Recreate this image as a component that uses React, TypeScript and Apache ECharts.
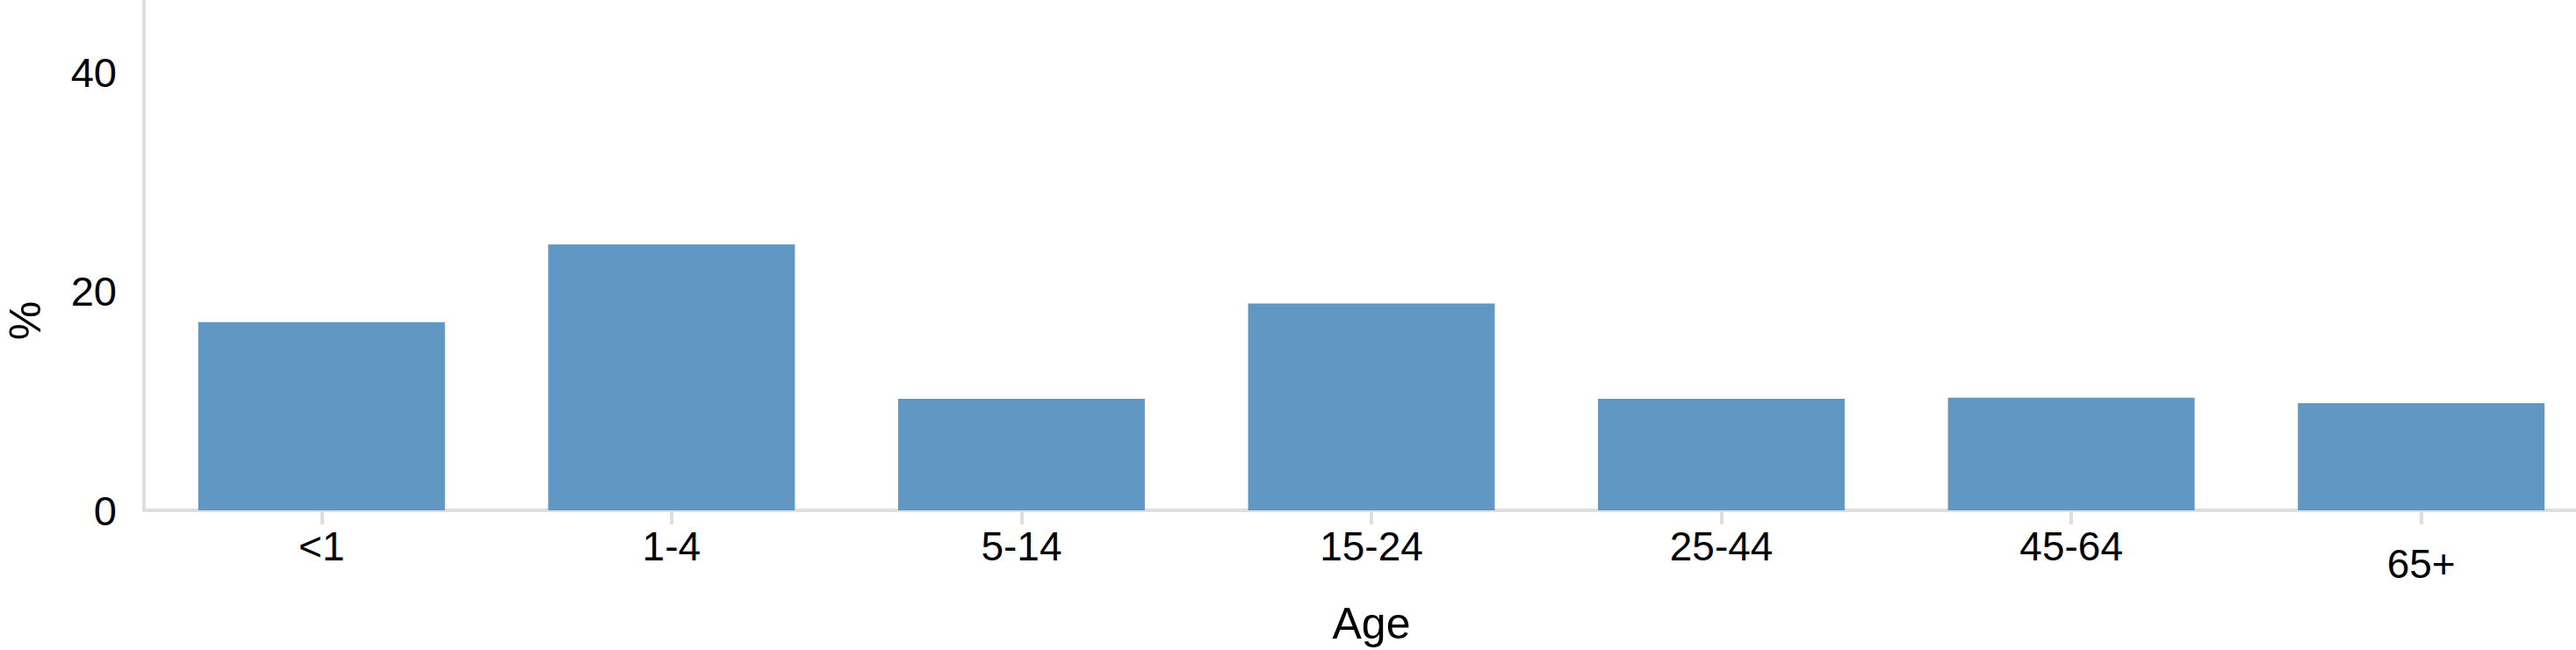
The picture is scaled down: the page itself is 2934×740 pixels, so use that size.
import React, { useEffect, useRef } from "react";
import * as echarts from "echarts";

const categories = ["<1", "1-4", "5-14", "15-24", "25-44", "45-64", "65+"];
const percentValues = [17.2, 24.3, 10.2, 18.9, 10.2, 10.3, 9.8];
const yTickStep = 20;
const yMax = 46.64;
const xAxisTitle = "Age";
const yAxisTitle = "%";

const FONT = "'Liberation Sans', Arial, Helvetica, sans-serif";

export default function App() {
  const ref = useRef<HTMLDivElement>(null);

  useEffect(() => {
    if (!ref.current) return;
    const chart = echarts.init(ref.current, undefined, { renderer: "svg" });
    chart.setOption({
      animation: false,
      backgroundColor: "#ffffff",
      grid: { left: 167, right: 3, top: 0, bottom: 157, containLabel: false },
      xAxis: {
        type: "category",
        data: categories.map((c) =>
          c === "65+" ? { value: c, textStyle: { padding: [20, 0, 0, 0] } } : c
        ),
        name: xAxisTitle,
        nameLocation: "middle",
        nameGap: 104,
        nameTextStyle: { fontFamily: FONT, fontSize: 50, color: "#000" },
        axisLine: { show: true, lineStyle: { color: "#dedede", width: 4 } },
        axisTick: {
          show: true,
          alignWithLabel: true,
          length: 16,
          lineStyle: { color: "#dedede", width: 4 },
        },
        axisLabel: {
          fontFamily: FONT,
          fontSize: 46,
          color: "#000",
          margin: 18,
          interval: 0,
        },
        splitLine: { show: false },
      },
      yAxis: {
        type: "value",
        min: 0,
        max: yMax,
        interval: yTickStep,
        offset: 3,
        axisLine: { show: true, lineStyle: { color: "#dedede", width: 4 } },
        axisTick: { show: false },
        splitLine: { show: false },
        axisLabel: {
          fontFamily: FONT,
          fontSize: 47,
          color: "#000",
          margin: 31,
          showMaxLabel: false,
          formatter: (v: number) => (v % yTickStep === 0 ? String(v) : ""),
        },
      },
      graphic: [
        {
          type: "text",
          x: 29,
          y: 365,
          rotation: Math.PI / 2,
          style: {
            text: yAxisTitle,
            fontFamily: FONT,
            fontSize: 50,
            fill: "#000",
            align: "center",
            verticalAlign: "middle",
          },
        },
      ],
      series: [
        {
          type: "bar",
          data: percentValues,
          barWidth: 281,
          itemStyle: { color: "#6198c3" },
        },
      ],
    });
    return () => chart.dispose();
  }, []);

  return (
    <div
      ref={ref}
      style={{ position: "fixed", left: 0, top: 0, width: 2960, height: 740 }}
    />
  );
}
